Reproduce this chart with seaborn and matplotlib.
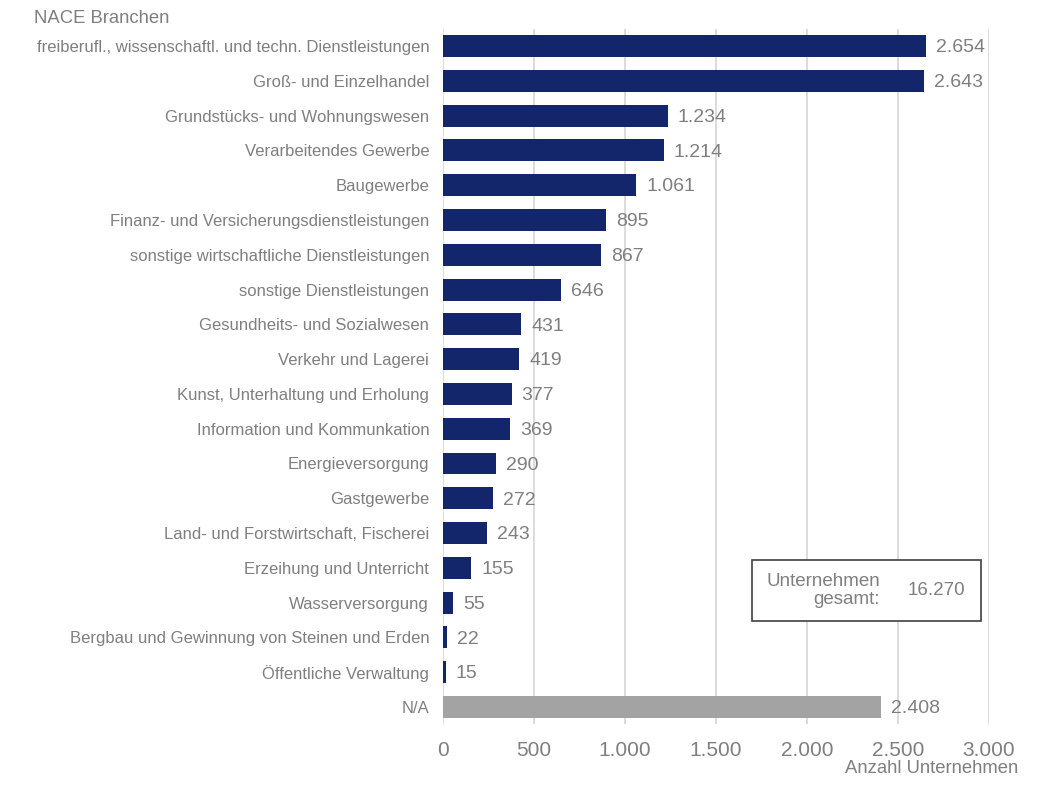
import matplotlib
matplotlib.use("Agg")
import matplotlib.pyplot as plt
import seaborn as sns
import pandas as pd

# data
branchen = [
    "freiberufl., wissenschaftl. und techn. Dienstleistungen",
    "Groß- und Einzelhandel",
    "Grundstücks- und Wohnungswesen",
    "Verarbeitendes Gewerbe",
    "Baugewerbe",
    "Finanz- und Versicherungsdienstleistungen",
    "sonstige wirtschaftliche Dienstleistungen",
    "sonstige Dienstleistungen",
    "Gesundheits- und Sozialwesen",
    "Verkehr und Lagerei",
    "Kunst, Unterhaltung und Erholung",
    "Information und Kommunkation",
    "Energieversorgung",
    "Gastgewerbe",
    "Land- und Forstwirtschaft, Fischerei",
    "Erzeihung und Unterricht",
    "Wasserversorgung",
    "Bergbau und Gewinnung von Steinen und Erden",
    "Öffentliche Verwaltung",
    "N/A",
]
anzahl = [2654, 2643, 1234, 1214, 1061, 895, 867, 646, 431, 419,
          377, 369, 290, 272, 243, 155, 55, 22, 15, 2408]
gesamt = 16270
x_ticks = [0, 500, 1000, 1500, 2000, 2500, 3000]

NAVY = "#13266b"
GREY_BAR = "#a3a3a3"
TXT = "#7f7f7f"


def fmt(v):
    return "{:,}".format(v).replace(",", ".")


sns.set_style("white")
plt.rcParams["font.family"] = ["Liberation Sans", "DejaVu Sans"]

df = pd.DataFrame({"branche": branchen, "anzahl": anzahl})
palette = [GREY_BAR if b == "N/A" else NAVY for b in branchen]

fig = plt.figure(figsize=(10.39, 7.91), dpi=100)
ax = fig.add_axes([0.4264, 0.0842, 0.5255, 0.8796])

sns.barplot(data=df, x="anzahl", y="branche", hue="branche", palette=palette,
            legend=False, width=0.63, ax=ax, saturation=1, linewidth=0)

ax.set_xlim(0, 3000)
ax.set_xticks(x_ticks)
ax.set_xticklabels([fmt(t) for t in x_ticks], fontsize=15, color=TXT)
ax.tick_params(axis="y", labelsize=12, labelcolor=TXT, length=0, pad=10)
ax.tick_params(axis="x", length=0, pad=12)
ax.xaxis.grid(True, color="#d9d9d9", linewidth=1.3)
ax.set_axisbelow(True)
for s in ax.spines.values():
    s.set_visible(False)
ax.set_xlabel("")
ax.set_ylabel("")

# value labels
for i, v in enumerate(anzahl):
    ax.text(v + 55, i + 0.05, fmt(v), va="center", ha="left", fontsize=14, color=TXT)

fig.text(0.033, 0.976, "NACE Branchen", fontsize=13.3, color=TXT, va="center")
fig.text(0.98, 0.028, "Anzahl Unternehmen", fontsize=13.3, color=TXT,
         va="center", ha="right")

# total box
box = plt.Rectangle((0.7237, 0.2150), 0.2200, 0.0770, transform=fig.transFigure,
                    facecolor="white", edgecolor="#404040", linewidth=1.2)
fig.add_artist(box)
fig.text(0.847, 0.2535, "Unternehmen\ngesamt:", fontsize=13.5, color=TXT,
         ha="right", va="center", multialignment="right", linespacing=1.15)
fig.text(0.929, 0.2535, fmt(gesamt), fontsize=13.5, color=TXT,
         ha="right", va="center")

fig.savefig("out.png", dpi=100)
